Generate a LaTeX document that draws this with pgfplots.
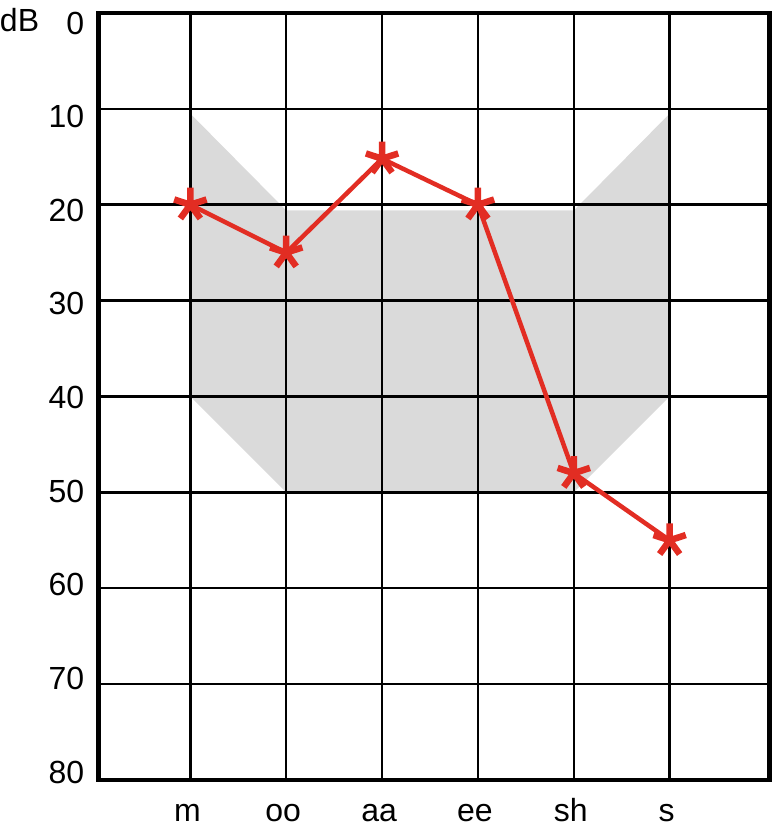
\documentclass[border=0pt]{standalone}
\usepackage{fontspec}
\setmainfont{Liberation Sans}
\usepackage{pgfplots}
\pgfplotsset{compat=1.18}
\definecolor{myred}{RGB}{226,45,35}
\definecolor{mygray}{RGB}{218,218,218}
\begin{document}
\begin{tikzpicture}
\begin{axis}[
  name=ax,
  set layers=standard,
  scale only axis, width=671pt, height=767pt,
  xmin=0.04, xmax=7.04, ymin=0, ymax=80, y dir=reverse,
  xtick={1,2,3,4,5,6}, xticklabels={m,oo,aa,ee,sh,s},
  ytick={0,10,...,80},
  grid=major, major grid style={black, line width=2.5pt},
  axis line style={line width=4.5pt, black},
  major tick length=0pt,
  tick label style={font=\fontsize{32}{38}\selectfont},
  yticklabel style={anchor=east, inner sep=0pt, xshift=-14pt, yshift={-10pt+2.25pt*\ticknum}},
  xticklabel style={anchor=base, inner sep=0pt, yshift=-42pt, xshift=-3pt},
  /pgf/number format/assume math mode=true,
]
\addplot[fill=mygray, draw=none, on layer=axis background] coordinates {(1,10.5) (2,20.6) (5,20.6) (6,10.5) (6,40) (5,50) (2,50) (1,40)};
\addplot[myred, line width=4.5pt, mark=star, mark size=17pt, mark options={line width=6.5pt, solid}] coordinates {(1,20) (2,25) (3,15.2) (4,20) (5,48) (6,55)};
\end{axis}
\node[anchor=base east, inner sep=0pt, font=\fontsize{32}{38}\selectfont] at ([xshift=-59pt, yshift=-19pt]ax.north west) {dB};
\path ([xshift=-97pt, yshift=13pt]ax.north west) rectangle ++(775pt,-829pt);
\end{tikzpicture}
\end{document}
